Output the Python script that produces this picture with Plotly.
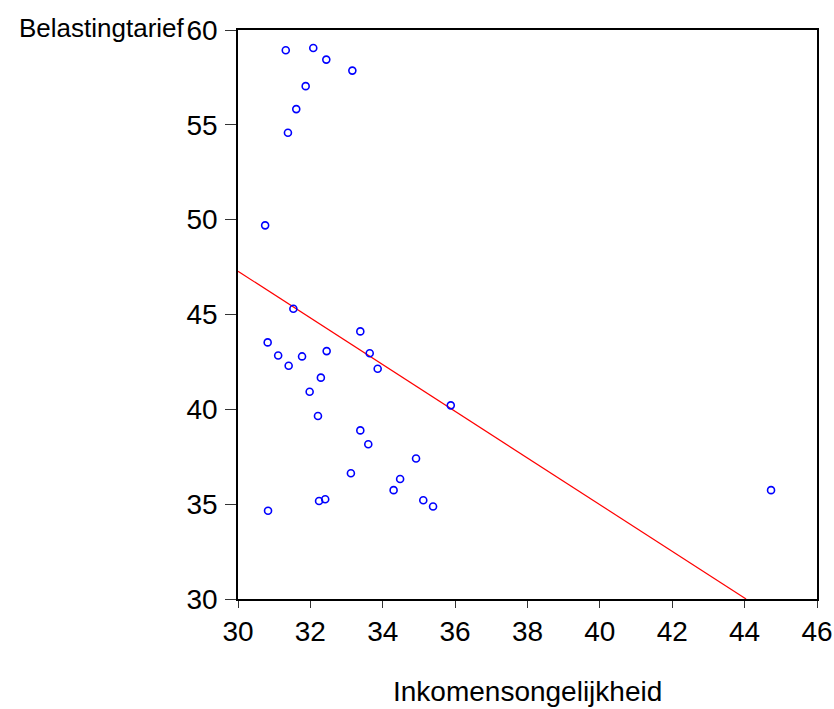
import plotly.graph_objects as go

# Scatter data (Inkomensongelijkheid, Belastingtarief)
ink = [31.32, 32.08, 32.44, 33.16, 31.87, 31.61, 31.38,
       30.75, 31.53, 30.82, 31.11, 31.40, 31.77, 32.45, 33.38, 33.64, 33.86,
       32.29, 31.98, 32.21, 35.88, 33.38, 33.60, 34.92, 33.12, 34.48, 34.30,
       35.12, 35.39, 32.24, 32.41, 30.83, 44.73]
bel = [58.93, 59.05, 58.44, 57.86, 57.04, 55.83, 54.58,
       49.70, 45.30, 43.53, 42.84, 42.30, 42.79, 43.07, 44.11, 42.96, 42.14,
       41.67, 40.93, 39.65, 40.21, 38.89, 38.16, 37.41, 36.63, 36.33, 35.74,
       35.21, 34.88, 35.17, 35.26, 34.65, 35.74]

# Regression line endpoints
fit_x = [30.0, 44.04]
fit_y = [47.28, 30.0]

x_ticks = [30, 32, 34, 36, 38, 40, 42, 44, 46]
y_ticks = [30, 35, 40, 45, 50, 55, 60]

FONT = "Liberation Sans, Arial, sans-serif"

fig = go.Figure()
fig.add_trace(go.Scatter(x=fit_x, y=fit_y, mode="lines",
                         line=dict(color="#FF0000", width=1.2),
                         showlegend=False, hoverinfo="skip"))
fig.add_trace(go.Scatter(x=ink, y=bel, mode="markers",
                         marker=dict(symbol="circle-open", size=7,
                                     color="#0000FF", line=dict(width=1.6, color="#0000FF")),
                         showlegend=False))

fig.update_layout(
    width=834, height=709,
    margin=dict(l=238, r=17, t=30, b=110),
    paper_bgcolor="white", plot_bgcolor="white",
    font=dict(family=FONT, size=28, color="black"),
    xaxis=dict(range=[30, 46], tickvals=x_ticks, ticktext=[str(v) for v in x_ticks],
               showgrid=False, zeroline=False, showline=True, mirror=True,
               linecolor="black", linewidth=1.5, automargin=False,
               ticks="outside", ticklen=7, tickwidth=1, tickcolor="#333",
               ticklabeloverflow="allow",
               tickfont=dict(family=FONT, size=28)),
    yaxis=dict(range=[30, 60], tickvals=y_ticks, ticktext=[str(v) for v in y_ticks],
               showgrid=False, zeroline=False, showline=True, mirror=True,
               linecolor="black", linewidth=1.5, automargin=False,
               ticks="outside", ticklen=11, tickwidth=1, tickcolor="#333",
               ticklabelstandoff=2,
               tickfont=dict(family=FONT, size=28)),
    annotations=[
        dict(text="Belastingtarief", xref="paper", yref="paper",
             x=-0.0875, y=1.003, xanchor="right", yanchor="middle", showarrow=False,
             font=dict(family=FONT, size=26, color="black")),
        dict(text="Inkomensongelijkheid", xref="paper", yref="paper",
             x=0.4995, y=-0.162, xanchor="center", yanchor="middle", showarrow=False,
             font=dict(family=FONT, size=28, color="black")),
    ],
)

fig.write_html("out.html")
